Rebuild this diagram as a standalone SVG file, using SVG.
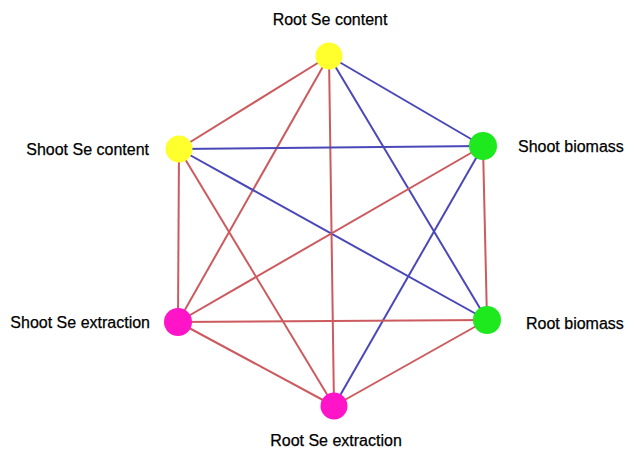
<svg xmlns="http://www.w3.org/2000/svg" width="627" height="450" viewBox="0 0 627 450">
<style>
.r{stroke:#cc5a5e;stroke-width:2;fill:none}
.b{stroke:#4a48b8;stroke-width:2;fill:none}
.y{fill:#ffff2e}
.g{fill:#1ee81e}
.m{fill:#ff14c8}
text{font-family:"Liberation Sans",Arial,sans-serif;font-size:16px;fill:#000;stroke:#000;stroke-width:0.25}
</style>
<rect width="627" height="450" fill="#fff"/>
<g id="connectors">
<line class="r" x1="329" y1="56" x2="179" y2="149"/>
<line class="b" x1="329" y1="56" x2="483" y2="146"/>
<line class="b" x1="329" y1="56" x2="487" y2="320"/>
<line class="r" x1="329" y1="56" x2="178" y2="322"/>
<line class="r" x1="329" y1="56" x2="334" y2="406"/>
<line class="b" x1="179" y1="149" x2="483" y2="146"/>
<line class="b" x1="179" y1="149" x2="487" y2="320"/>
<line class="r" x1="179" y1="149" x2="178" y2="322"/>
<line class="r" x1="179" y1="149" x2="334" y2="406"/>
<line class="r" x1="483" y1="146" x2="487" y2="320"/>
<line class="r" x1="483" y1="146" x2="178" y2="322"/>
<line class="b" x1="483" y1="146" x2="334" y2="406"/>
<line class="r" x1="178" y1="322" x2="487" y2="320"/>
<line class="r" x1="178" y1="322" x2="334" y2="406"/>
<line class="r" x1="487" y1="320" x2="334" y2="406"/>
</g>
<g id="root-se-content">
<circle class="y" cx="329" cy="56" r="13.5"/>
<text x="330" y="25" text-anchor="middle">Root Se content</text>
</g>
<g id="shoot-se-content">
<circle class="y" cx="179" cy="149" r="13.5"/>
<text x="149" y="155" text-anchor="end">Shoot Se content</text>
</g>
<g id="shoot-biomass">
<circle class="g" cx="483" cy="146" r="14"/>
<text x="518" y="152">Shoot biomass</text>
</g>
<g id="shoot-se-extraction">
<circle class="m" cx="178" cy="322" r="14"/>
<text x="150" y="328" text-anchor="end">Shoot Se extraction</text>
</g>
<g id="root-biomass">
<circle class="g" cx="487" cy="320" r="14"/>
<text x="526" y="329">Root biomass</text>
</g>
<g id="root-se-extraction">
<circle class="m" cx="334" cy="406" r="13.5"/>
<text x="336" y="446" text-anchor="middle">Root Se extraction</text>
</g>
</svg>
